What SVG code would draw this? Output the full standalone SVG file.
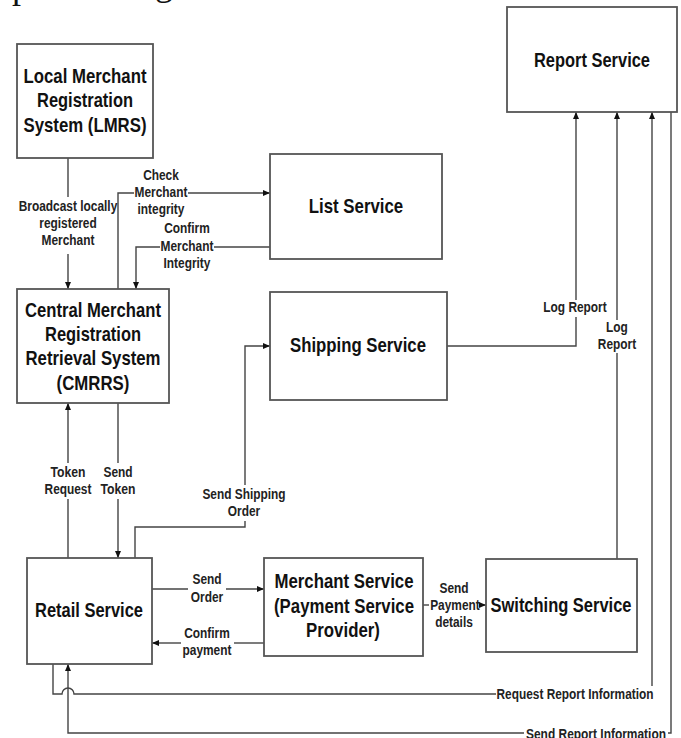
<svg xmlns="http://www.w3.org/2000/svg" width="681" height="738" viewBox="0 0 681 738">
  <defs>
    <style>
      .box { fill: #fff; stroke: #555; stroke-width: 1.8; }
      .n { font-family: "Liberation Sans Narrow", "Liberation Sans", Arial, sans-serif; font-weight: bold; font-size: 20.5px; text-anchor: middle; fill: #111; }
      .l { font-family: "Liberation Sans Narrow", "Liberation Sans", Arial, sans-serif; font-weight: bold; font-size: 14.5px; text-anchor: middle; fill: #222; }
      .c path { fill: none; stroke: #444; stroke-width: 1.4; }
      .frag { font-family: "Liberation Serif", "Times New Roman", serif; font-size: 36px; fill: #111; }
    </style>
    <marker id="arr" viewBox="0 0 7 6" refX="7" refY="3" markerWidth="7" markerHeight="6" markerUnits="userSpaceOnUse" orient="auto">
      <path d="M0,0 L7,3 L0,6 z" fill="#111"/>
    </marker>
  </defs>
  <rect width="681" height="738" fill="#fff"/>

  <!-- clipped heading line above the figure -->
  <text class="frag" x="12" y="-2.5">p</text>
  <text class="frag" x="155" y="-5">g</text>

  <!-- connectors -->
  <g id="connectors" class="c">
    <path d="M68,158 V197"/>
    <path d="M68,254 V289" marker-end="url(#arr)"/>

    <path d="M118,289 V193 H134"/>
    <path d="M188,193 H270" marker-end="url(#arr)"/>

    <path d="M270,247 H214"/>
    <path d="M160,247 H136 V289" marker-end="url(#arr)"/>

    <path d="M68,558 V499"/>
    <path d="M68,463 V403" marker-end="url(#arr)"/>

    <path d="M118,403 V463"/>
    <path d="M118,499 V558" marker-end="url(#arr)"/>

    <path d="M135,558 V527 H245 V521"/>
    <path d="M245,485 V346 H270" marker-end="url(#arr)"/>

    <path d="M447,346 H576 V317"/>
    <path d="M576,300 V112" marker-end="url(#arr)"/>

    <path d="M617,559 V353"/>
    <path d="M617,320 V112" marker-end="url(#arr)"/>

    <path d="M152,589 H188"/>
    <path d="M226,589 H264" marker-end="url(#arr)"/>

    <path d="M264,643 H234"/>
    <path d="M181,643 H152" marker-end="url(#arr)"/>

    <path d="M423,605 H429"/>
    <path d="M481,605 H486" marker-end="url(#arr)"/>

    <path d="M53,664 V694 H62 A6,6 0 0 1 74,694 H496"/>
    <path d="M652,686 V112" marker-end="url(#arr)"/>

    <path d="M671,112 V733 H668"/>
    <path d="M524,733 H68 V664" marker-end="url(#arr)"/>
  </g>

  <!-- connector labels -->
  <g id="labels">
    <text class="l" x="68" y="211" textLength="98.5" lengthAdjust="spacingAndGlyphs">Broadcast locally</text>
    <text class="l" x="68" y="228" textLength="57.5" lengthAdjust="spacingAndGlyphs">registered</text>
    <text class="l" x="68" y="245" textLength="52.9" lengthAdjust="spacingAndGlyphs">Merchant</text>

    <text class="l" x="161" y="180" textLength="35.7" lengthAdjust="spacingAndGlyphs">Check</text>
    <text class="l" x="161" y="197" textLength="52.9" lengthAdjust="spacingAndGlyphs">Merchant</text>
    <text class="l" x="161" y="214" textLength="46.9" lengthAdjust="spacingAndGlyphs">integrity</text>

    <text class="l" x="187" y="233" textLength="45.6" lengthAdjust="spacingAndGlyphs">Confirm</text>
    <text class="l" x="187" y="251" textLength="52.9" lengthAdjust="spacingAndGlyphs">Merchant</text>
    <text class="l" x="187" y="268" textLength="46.9" lengthAdjust="spacingAndGlyphs">Integrity</text>

    <text class="l" x="68" y="477" textLength="35" lengthAdjust="spacingAndGlyphs">Token</text>
    <text class="l" x="68" y="494" textLength="46.9" lengthAdjust="spacingAndGlyphs">Request</text>

    <text class="l" x="118" y="477" textLength="29.1" lengthAdjust="spacingAndGlyphs">Send</text>
    <text class="l" x="118" y="494" textLength="35" lengthAdjust="spacingAndGlyphs">Token</text>

    <text class="l" x="244" y="499" textLength="83.2" lengthAdjust="spacingAndGlyphs">Send Shipping</text>
    <text class="l" x="244" y="516" textLength="32.4" lengthAdjust="spacingAndGlyphs">Order</text>

    <text class="l" x="575" y="312" textLength="63.4" lengthAdjust="spacingAndGlyphs">Log Report</text>

    <text class="l" x="617" y="332" textLength="21.8" lengthAdjust="spacingAndGlyphs">Log</text>
    <text class="l" x="617" y="349" textLength="38.3" lengthAdjust="spacingAndGlyphs">Report</text>

    <text class="l" x="207" y="584" textLength="29.1" lengthAdjust="spacingAndGlyphs">Send</text>
    <text class="l" x="207" y="602" textLength="32.4" lengthAdjust="spacingAndGlyphs">Order</text>

    <text class="l" x="207" y="638" textLength="45.6" lengthAdjust="spacingAndGlyphs">Confirm</text>
    <text class="l" x="207" y="655" textLength="48.9" lengthAdjust="spacingAndGlyphs">payment</text>

    <text class="l" x="454" y="593" textLength="29.1" lengthAdjust="spacingAndGlyphs">Send</text>
    <text class="l" x="455" y="610" textLength="49.6" lengthAdjust="spacingAndGlyphs">Payment</text>
    <text class="l" x="454" y="627" textLength="37.7" lengthAdjust="spacingAndGlyphs">details</text>

    <text class="l" x="575" y="699" textLength="157" lengthAdjust="spacingAndGlyphs">Request Report Information</text>
    <text class="l" x="596" y="739" textLength="140" lengthAdjust="spacingAndGlyphs">Send Report Information</text>
  </g>

  <!-- nodes -->
  <g id="lmrs">
    <rect class="box" x="17" y="44" width="136" height="114"/>
    <text class="n" x="85" y="83" textLength="123" lengthAdjust="spacingAndGlyphs">Local Merchant</text>
    <text class="n" x="85" y="107" textLength="96" lengthAdjust="spacingAndGlyphs">Registration</text>
    <text class="n" x="85" y="132" textLength="123" lengthAdjust="spacingAndGlyphs">System (LMRS)</text>
  </g>

  <g id="list-service">
    <rect class="box" x="270" y="154" width="172" height="105"/>
    <text class="n" x="356" y="213" textLength="94.4" lengthAdjust="spacingAndGlyphs">List Service</text>
  </g>

  <g id="report-service">
    <rect class="box" x="507" y="7" width="170" height="105"/>
    <text class="n" x="592" y="67" textLength="116" lengthAdjust="spacingAndGlyphs">Report Service</text>
  </g>

  <g id="cmrrs">
    <rect class="box" x="17" y="289" width="152" height="114"/>
    <text class="n" x="93" y="317" textLength="136" lengthAdjust="spacingAndGlyphs">Central Merchant</text>
    <text class="n" x="93" y="341" textLength="96" lengthAdjust="spacingAndGlyphs">Registration</text>
    <text class="n" x="93" y="365" textLength="135" lengthAdjust="spacingAndGlyphs">Retrieval System</text>
    <text class="n" x="93" y="390" textLength="72.8" lengthAdjust="spacingAndGlyphs">(CMRRS)</text>
  </g>

  <g id="shipping-service">
    <rect class="box" x="270" y="292" width="177" height="108"/>
    <text class="n" x="358" y="352" textLength="136" lengthAdjust="spacingAndGlyphs">Shipping Service</text>
  </g>

  <g id="retail-service">
    <rect class="box" x="27" y="558" width="125" height="106"/>
    <text class="n" x="89" y="617" textLength="108" lengthAdjust="spacingAndGlyphs">Retail Service</text>
  </g>

  <g id="merchant-service">
    <rect class="box" x="264" y="558" width="159" height="98"/>
    <text class="n" x="344" y="588" textLength="139" lengthAdjust="spacingAndGlyphs">Merchant Service</text>
    <text class="n" x="344" y="613" textLength="140" lengthAdjust="spacingAndGlyphs">(Payment Service</text>
    <text class="n" x="343" y="637" textLength="73.8" lengthAdjust="spacingAndGlyphs">Provider)</text>
  </g>

  <g id="switching-service">
    <rect class="box" x="486" y="559" width="151" height="93"/>
    <text class="n" x="561" y="612" textLength="141" lengthAdjust="spacingAndGlyphs">Switching Service</text>
  </g>
</svg>
